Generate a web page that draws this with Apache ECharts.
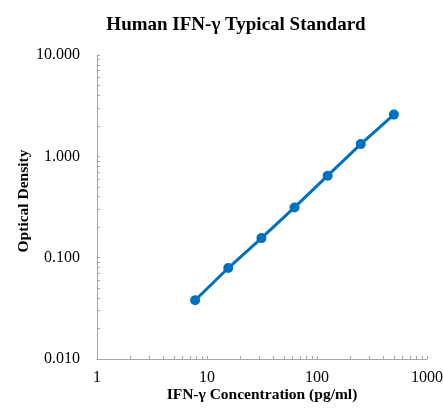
<!DOCTYPE html>
<html>
<head>
<meta charset="utf-8">
<script src="https://cdn.jsdelivr.net/npm/echarts@6/dist/echarts.min.js"></script>
<style>html,body{margin:0;padding:0;background:#fff}#c{width:443px;height:410px}</style>
</head>
<body>
<div id="c"></div>
<script>
const concentrations = [7.8, 15.6, 31.25, 62.5, 125, 250, 500];
const opticalDensity = [0.038, 0.079, 0.156, 0.313, 0.645, 1.32, 2.58];
const xTickLabels = [1, 10, 100, 1000];
const yTickLabels = [0.01, 0.1, 1, 10];

function logTicks(lo, hi) {
  const out = [];
  for (let d = lo; d < hi * 0.999; d *= 10) {
    for (let k = 1; k <= 9; k++) out.push(+(d * k).toPrecision(6));
  }
  out.push(hi);
  return out;
}

const serif = '"Liberation Serif", "DejaVu Serif", serif';
const axisGrey = '#A6A6A6';

const chart = echarts.init(document.getElementById('c'), null, {renderer: 'canvas'});
chart.setOption({
  animation: false,
  backgroundColor: '#ffffff',
  title: {
    text: 'Human IFN-γ Typical Standard',
    left: 231, top: 11, textAlign: 'center',
    textStyle: {fontFamily: serif, fontSize: 19, fontWeight: 'bold', color: '#000'}
  },
  grid: {left: 97, right: 16, top: 55, bottom: 51, containLabel: false, outerBoundsMode: 'none'},
  xAxis: {
    type: 'log', logBase: 10, min: 1, max: 1000,
    name: 'IFN-γ Concentration (pg/ml)', nameLocation: 'middle', nameGap: 28, nameMoveOverlap: false,
    nameTextStyle: {fontFamily: serif, fontSize: 15.5, fontWeight: 'bold', color: '#000'},
    axisLine: {show: true, lineStyle: {color: axisGrey, width: 1}},
    axisTick: {show: true, inside: true, length: 3, lineStyle: {color: axisGrey}, customValues: logTicks(1, 1000)},
    axisLabel: {margin: 11, fontFamily: serif, fontSize: 16, color: '#000', customValues: xTickLabels, formatter: v => String(Math.round(v))},
    splitLine: {show: false}
  },
  yAxis: {
    type: 'log', logBase: 10, min: 0.01, max: 10,
    name: 'Optical Density', nameLocation: 'middle', nameGap: 65, nameMoveOverlap: false,
    nameTextStyle: {fontFamily: serif, fontSize: 15.5, fontWeight: 'bold', color: '#000', padding: [0, 0, 0, 12]},
    axisLine: {show: true, lineStyle: {color: axisGrey, width: 1}},
    axisTick: {show: true, inside: true, length: 3, lineStyle: {color: axisGrey}, customValues: logTicks(0.01, 10)},
    axisLabel: {margin: 17, fontFamily: serif, fontSize: 16, color: '#000', customValues: yTickLabels, formatter: v => Number(v).toFixed(3)},
    splitLine: {show: false}
  },
  series: [{
    type: 'line',
    data: concentrations.map((c, i) => [c, opticalDensity[i]]),
    symbol: 'circle', symbolSize: 10,
    lineStyle: {color: '#0070C0', width: 3},
    itemStyle: {color: '#0070C0'}
  }]
});
</script>
</body>
</html>
